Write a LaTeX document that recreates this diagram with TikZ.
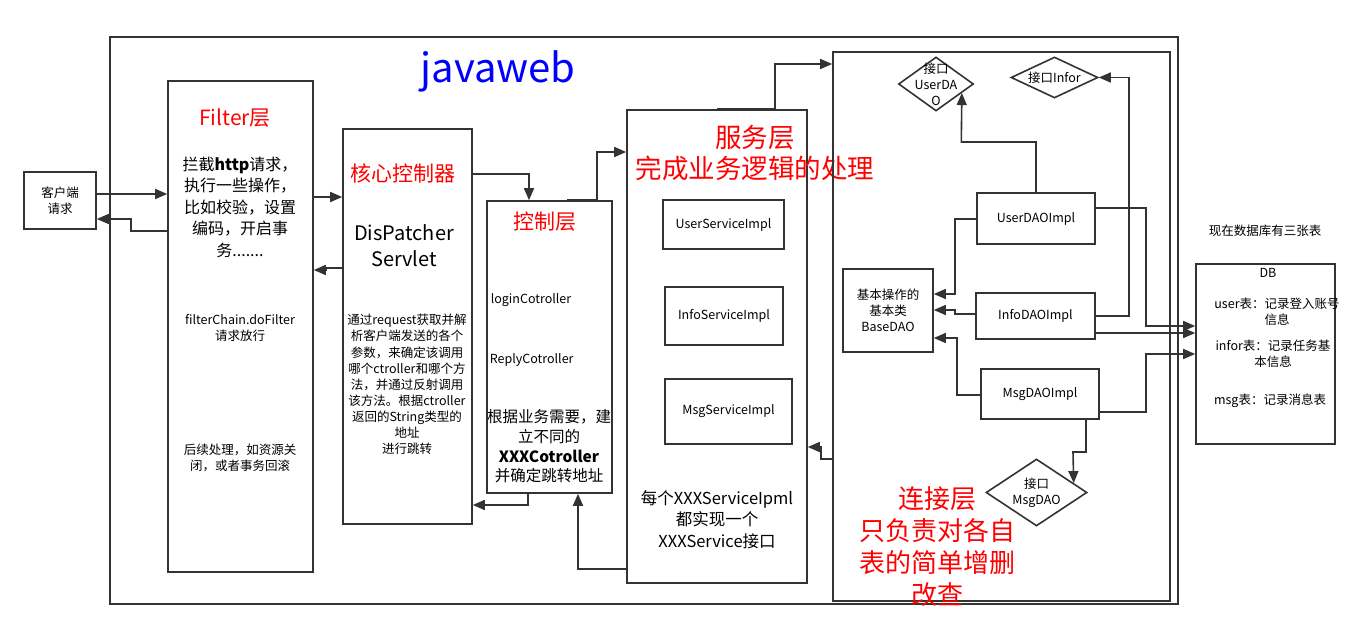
\documentclass[tikz,border=0pt]{standalone}
\usepackage{fontspec}
\setmainfont{Noto Sans CJK SC}
\usetikzlibrary{calc,arrows.meta,shapes.geometric}
\definecolor{linegray}{HTML}{333333}
\newcommand{\setfs}[2]{\fontsize{#1}{#2}\selectfont}

\begin{document}
\begin{tikzpicture}[
 x=1pt, y=-1pt,
 line width=1.6pt,
 draw=linegray,
 >={Triangle[length=12pt,width=10pt]},
 align=center,
 inner sep=0pt,
 box/.style={draw=linegray,rectangle},
 iface/.style={draw=linegray,diamond,inner sep=0pt},
 redtitle/.style={text=red,font=\setfs{21}{26}},
 bigred/.style={text=red,font=\setfs{26.5}{31}},
 small/.style={font=\setfs{12.5}{16}},
 body/.style={font=\setfs{16}{21.5}}
]
\useasboundingbox (0,0) rectangle (1368,636);
\node (web) [box, minimum width=1068pt, minimum height=567pt] at (644,320.5) {};
\node (webtitle) [text=blue, font=\setfs{40}{42}] at (498,71) {javaweb};

\node (client) [box, minimum width=72pt, minimum height=57pt, small] at (60,200.5) {客户端\\请求};

\node (filter) [box, minimum width=145pt, minimum height=491pt] at (240.5,326.5) {};
\node (filtertitle) [redtitle] at (235,118) {Filter层};
\node (filtertext) [body] at (240,207) {拦截\textbf{http}请求，\\执行一些操作，\\比如校验，设置\\编码，开启事\\务.......};
\node (dofilter) [small] at (240,328) {filterChain.doFilter\\请求放行};
\node (after) [small] at (240,458) {后续处理，如资源关\\闭，或者事务回滚};

\node (core) [box, minimum width=129pt, minimum height=395pt] at (407.5,326.5) {};
\node (coretitle) [redtitle] at (403,173) {核心控制器};
\node (servlet) [font=\setfs{20}{26}] at (404,246) {DisPatcher\\Servlet};
\node (coretext) [font=\setfs{12.5}{16.1}] at (407,384.5) {通过request获取并解\\析客户端发送的各个\\参数，来确定该调用\\哪个ctroller和哪个方\\法，并通过反射调用\\该方法。根据ctroller\\返回的String类型的\\地址\\进行跳转};

\node (ctrl) [box, minimum width=125pt, minimum height=292pt] at (549.5,347) {};
\node (ctrltitle) [redtitle] at (545,222) {控制层};
\node (login) [small, anchor=west] at (490,300) {loginCotroller};
\node (reply) [small, anchor=west] at (489,360) {ReplyCotroller};
\node (ctrltext) [font=\setfs{15.5}{19.7}] at (549,446.5) {根据业务需要，建\\立不同的\\\textbf{XXXCotroller}\\并确定跳转地址};

\node (svc) [box, minimum width=180pt, minimum height=473pt] at (717,346.5) {};
\node (svctitle) [bigred] at (755,153) {服务层\\完成业务逻辑的处理};
\node (usersvc) [box, minimum width=121pt, minimum height=49pt, small] at (723.5,224.5) {UserServiceImpl};
\node (infosvc) [box, minimum width=118pt, minimum height=58pt, small] at (724,316) {InfoServiceImpl};
\node (msgsvc) [box, minimum width=127pt, minimum height=65pt, small] at (728.5,411.5) {MsgServiceImpl};
\node (svctext) [font=\setfs{16.5}{21.5}] at (717,519.5) {每个XXXServiceIpml\\都实现一个\\XXXService接口};

\node (dao) [box, minimum width=337pt, minimum height=549pt] at (1001.5,326.5) {};
\node (ifuser) [iface, minimum width=75pt, minimum height=54pt, label={[small]center:接口\\UserDA\\O}] at (936,84) {};
\node (ifinfor) [iface, minimum width=87pt, minimum height=41pt, label={[small]center:接口Infor}] at (1054.5,77.5) {};
\node (ifmsg) [iface, minimum width=101pt, minimum height=67pt, label={[small]center:接口\\MsgDAO}] at (1036.5,492.5) {};
\node (userimpl) [box, minimum width=118pt, minimum height=51pt, small] at (1036,218.5) {UserDAOImpl};
\node (infoimpl) [box, minimum width=119pt, minimum height=46pt, small] at (1035.5,316) {InfoDAOImpl};
\node (msgimpl) [box, minimum width=118pt, minimum height=50pt, small] at (1040,394) {MsgDAOImpl};
\node (basedao) [box, minimum width=90pt, minimum height=83pt, font=\setfs{12.5}{16}] at (888,310.5) {基本操作的\\基本类\\BaseDAO};
\node (daotext) [bigred, font=\setfs{26}{32}] at (937,547) {连接层\\只负责对各自\\表的简单增删\\改查};

\node (dbnote) [small] at (1265,231) {现在数据库有三张表};
\node (db) [box, minimum width=139pt, minimum height=180pt] at (1265.5,354) {};
\node (dbname) [small] at (1268,273) {DB};
\node (dbuser) [small] at (1277,311.5) {user表：记录登入账号\\信息};
\node (dbinfor) [small] at (1273,354) {infor表：记录任务基\\本信息};
\node (dbmsg) [small] at (1270,401) {msg表：记录消息表};

\draw[->] (client.east |- 0,194) -- (filter.west |- 0,194);
\draw[->] (filter.west |- 0,231) -| (131,219) -- (client.east |- 0,219);
\draw[->] (filter.east |- 0,197) -- (core.west |- 0,197);
\draw[->] (core.west |- 0,268) -- (326,268) -- (326,270) -- (filter.east |- 0,270);
\draw[->] (core.east |- 0,174) -| (ctrl.north -| 529,0);
\draw[->] (ctrl.south -| 528,0) |- (core.east |- 0,505);
\draw[->] (ctrl.north -| 567,0) -- ++(30,0) |- (svc.west |- 0,152);
\draw[->] (svc.west |- 0,569) -| (ctrl.south -| 578,0);
\draw[->] (svc.north -| 717,0) -- (svc.north -| 775,0) |- (dao.west |- 0,64);
\draw[->] (dao.west |- 0,459) -- (821,459) -- (821,447) -- (svc.east |- 0,447);

\draw[->] (userimpl.north -| 1036,0) |- (961.3,142) -- ($(ifuser.south east)!0.35!(ifuser.east)$);
\draw[->] (userimpl.west |- 0,219) -| (955,294) -- (basedao.east |- 0,294);
\draw[->] (infoimpl.west |- 0,314) -- (955,314) -- (955,310) -- (basedao.east |- 0,310);
\draw[->] (msgimpl.west |- 0,395) -| (957,338) -- (basedao.east |- 0,338);
\draw[->] (msgimpl.south -| 1086,0) |- (1073,452) -- ($(ifmsg.north east)!0.45!(ifmsg.east)$);
\draw[->] (userimpl.east |- 0,208) -| (1146,326) -- (db.west |- 0,326);
\draw[->] (infoimpl.east |- 0,316) -| (1129,77.5) -- (ifinfor.east);
\draw[->] (infoimpl.east |- 0,333) -- (db.west |- 0,333);
\draw[->] (msgimpl.east |- 0,412) -| (1146,354) -- (db.west |- 0,354);
\end{tikzpicture}
\end{document}
